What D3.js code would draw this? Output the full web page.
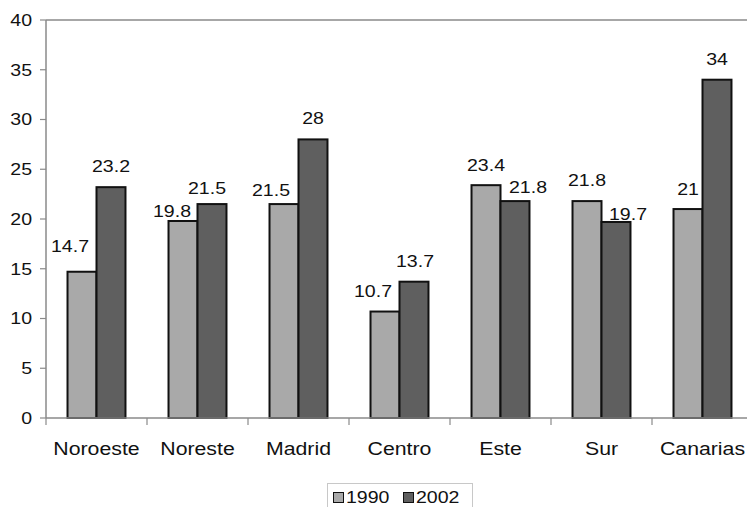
<!DOCTYPE html>
<html>
<head>
<meta charset="utf-8">
<script src="https://cdn.jsdelivr.net/npm/d3@7/dist/d3.min.js"></script>
<style>
  html, body { margin: 0; padding: 0; background: #fff; }
  svg { display: block; }
  text { font-family: "Liberation Sans", Arial, Helvetica, sans-serif; fill: #111; }
</style>
</head>
<body>
<svg id="chart" width="747" height="507"></svg>
<script>
// Regions and the two survey years
const categories = ["Noroeste", "Noreste", "Madrid", "Centro", "Este", "Sur", "Canarias"];
const seriesNames = ["1990", "2002"];
const values1990 = [14.7, 19.8, 21.5, 10.7, 23.4, 21.8, 21];
const values2002 = [23.2, 21.5, 28, 13.7, 21.8, 19.7, 34];
const yTicks = [0, 5, 10, 15, 20, 25, 30, 35, 40];

// Value-label nudges (px) so neighbouring labels don't collide
const labelDx1990 = [-12, -11, -13, -12, 0, 0, 0];
const labelDx2002 = [0, -5, 0, 1, 13, 12, 0];
const labelDy1990 = [-20, -4, -8, -15, -14, -15, -14];
const labelDy2002 = [-15, -10, -15, -15, -8, -2, -15];

const colors = ["#a9a9a9", "#5f5f5f"];
const axisColor = "#8a8a8a";
const stretch = 1.15;   // horizontal text stretch

const svg = d3.select("#chart");
const plot = { left: 46, right: 753, top: 20, bottom: 418 };

const x = d3.scaleBand().domain(categories).range([plot.left, plot.right]).padding(0);
const groupFrac = 0.574;
const x1 = d3.scaleBand().domain(seriesNames)
  .range([x.bandwidth() * (1 - groupFrac) / 2, x.bandwidth() * (1 + groupFrac) / 2]);
const y = d3.scaleLinear().domain([0, 40]).range([plot.bottom, plot.top]);

function stretchedText(sel, px, py) {
  return sel.attr("transform", (d, i) => `translate(${px(d, i)},${py(d, i)}) scale(${stretch},1)`);
}

// Top frame line
svg.append("line")
  .attr("x1", plot.left).attr("x2", 747)
  .attr("y1", y(40)).attr("y2", y(40))
  .attr("stroke", axisColor).attr("stroke-width", 1.5);

// Y axis
const yAxis = svg.append("g");
yAxis.append("line")
  .attr("x1", plot.left).attr("x2", plot.left)
  .attr("y1", y(0)).attr("y2", y(40))
  .attr("stroke", axisColor).attr("stroke-width", 1.5);
yAxis.selectAll("line.tick").data(yTicks).join("line")
  .attr("class", "tick")
  .attr("x1", plot.left - 6).attr("x2", plot.left)
  .attr("y1", d => y(d)).attr("y2", d => y(d))
  .attr("stroke", axisColor).attr("stroke-width", 1.2);
stretchedText(
  yAxis.selectAll("text").data(yTicks).join("text")
    .attr("text-anchor", "end")
    .attr("dy", "0.35em")
    .style("font-size", "17px")
    .text(d => d),
  () => 32, d => y(d));

// Bars
const series = [values1990, values2002];
const dxs = [labelDx1990, labelDx2002];
const dys = [labelDy1990, labelDy2002];
const bars = [];
series.forEach((vals, s) => {
  vals.forEach((v, i) => bars.push({ cat: categories[i], s, v, i }));
});

svg.append("g").selectAll("rect").data(bars).join("rect")
  .attr("x", d => x(d.cat) + x1(seriesNames[d.s]))
  .attr("y", d => y(d.v))
  .attr("width", x1.bandwidth())
  .attr("height", d => y(0) - y(d.v))
  .attr("fill", d => colors[d.s])
  .attr("stroke", "#111")
  .attr("stroke-width", 2);

// X axis
const xAxis = svg.append("g");
xAxis.append("line")
  .attr("x1", plot.left).attr("x2", 747)
  .attr("y1", y(0)).attr("y2", y(0))
  .attr("stroke", axisColor).attr("stroke-width", 1.5);
xAxis.selectAll("line.tick").data(categories.concat(["__end"])).join("line")
  .attr("class", "tick")
  .attr("x1", (d, i) => plot.left + i * x.step())
  .attr("x2", (d, i) => plot.left + i * x.step())
  .attr("y1", y(0)).attr("y2", y(0) + 7)
  .attr("stroke", axisColor).attr("stroke-width", 1.2);
stretchedText(
  xAxis.selectAll("text").data(categories).join("text")
    .attr("text-anchor", "middle")
    .style("font-size", "18.5px")
    .text(d => d),
  d => x(d) + x.bandwidth() / 2, () => 455);

// Value labels
stretchedText(
  svg.append("g").selectAll("text").data(bars).join("text")
    .attr("text-anchor", "middle")
    .style("font-size", "17px")
    .text(d => d.v),
  d => x(d.cat) + x1(seriesNames[d.s]) + x1.bandwidth() / 2 + dxs[d.s][d.i],
  d => y(d.v) + dys[d.s][d.i]);

// Legend
const legend = svg.append("g");
legend.append("rect")
  .attr("x", 327.5).attr("y", 483.5).attr("width", 145).attr("height", 30)
  .attr("fill", "#fff").attr("stroke", "#c8c8c8").attr("stroke-width", 1);
const legendX = [333, 403];
seriesNames.forEach((name, s) => {
  legend.append("rect")
    .attr("x", legendX[s] + 0.5).attr("y", 492.5).attr("width", 10).attr("height", 10)
    .attr("fill", colors[s]).attr("stroke", "#111").attr("stroke-width", 1);
  legend.append("text")
    .attr("transform", `translate(${legendX[s] + 13},503) scale(${stretch},1)`)
    .style("font-size", "17px")
    .text(name);
});
</script>
</body>
</html>
